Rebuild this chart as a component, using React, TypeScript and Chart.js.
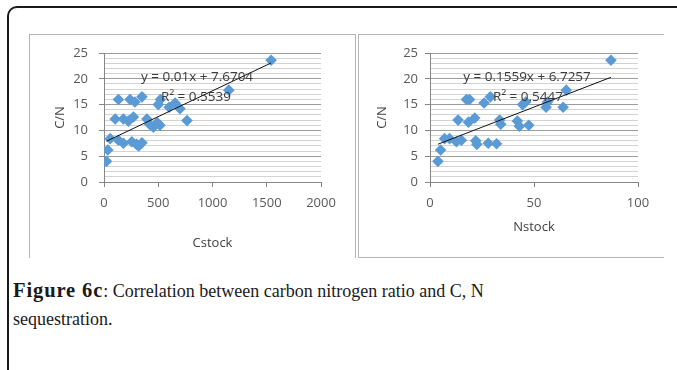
import React, { useEffect, useRef } from 'react';
import { Chart, registerables } from 'chart.js';

Chart.register(...registerables);

// ---- Data ----
const cstock = [23, 35, 57, 133, 179, 256, 300, 320, 350, 103, 179, 225, 271, 395, 420, 455, 516, 490, 133, 240, 285, 350, 500, 520, 600, 655, 700, 765, 1150, 1540];
const cnVsCstock = [4.0, 6.2, 8.4, 8.1, 7.5, 7.8, 7.3, 7.0, 7.6, 12.2, 12.2, 11.8, 12.6, 12.2, 11.2, 10.6, 11.0, 11.5, 16.0, 16.0, 15.5, 16.5, 15.0, 16.0, 14.5, 15.3, 14.2, 11.9, 17.8, 23.6];

const nstock = [3.8, 5.1, 7.0, 9.4, 12.7, 15.1, 22.0, 22.5, 28, 32, 13.5, 18.5, 21.5, 17.5, 19, 26, 29, 33.5, 34, 43, 42, 47.5, 44.5, 46, 55.8, 56.5, 64, 65.5, 87];
const cnVsNstock = [4.0, 6.2, 8.4, 8.4, 7.8, 8.1, 8.0, 7.3, 7.5, 7.4, 12.0, 11.6, 12.4, 16.0, 16.0, 15.3, 16.5, 12.0, 11.2, 10.8, 11.8, 11.0, 15.0, 15.5, 14.5, 15.5, 14.5, 17.8, 23.6];

const cTrend = [0.01, 7.6704];
const nTrend = [0.1559, 6.7257];
const cEquation = 'y = 0.01x + 7.6704';
const cR2 = 'R\u00B2 = 0.5539';
const nEquation = 'y = 0.1559x + 6.7257';
const nR2 = 'R\u00B2 = 0.5447';

const cXTicks = [0, 500, 1000, 1500, 2000];
const nXTicks = [0, 50, 100];
const yTicks = [0, 5, 10, 15, 20, 25];
const yMinorStep = 1;

const FONT = '"Open Sans", sans-serif';
const BLUE = '#5b9bd5';

type Cfg = {
  xs: number[];
  ys: number[];
  trend: number[];
  eq: string;
  r2: string;
  xTicks: number[];
  xTitle: string;
  width: number;
  height: number;
  padRight: number;
  yAxisW: number;
  xAxisH: number;
  yTitlePad: number;
  xTitlePad: number;
  yTickPad: number;
  xTickPad: number;
  eqPos: [number, number];
  r2Pos: [number, number];
};

function ScatterPanel(props: Cfg & { left: number; top: number }) {
  const ref = useRef<HTMLCanvasElement | null>(null);
  useEffect(() => {
    if (!ref.current) return;
    const p = props;
    const pts = p.xs.map((x, i) => ({ x, y: p.ys[i] }));
    const xmin = Math.min(...p.xs);
    const xmax = Math.max(...p.xs);
    const line = [
      { x: xmin, y: p.trend[0] * xmin + p.trend[1] },
      { x: xmax, y: p.trend[0] * xmax + p.trend[1] },
    ];
    const labelPlugin = {
      id: 'eqLabels',
      afterDatasetsDraw(chart: any) {
        const ctx = chart.ctx;
        ctx.save();
        ctx.font = '13.5px ' + FONT;
        ctx.fillStyle = '#3a3a3a';
        ctx.textAlign = 'center';
        ctx.textBaseline = 'middle';
        ctx.fillText(p.eq, p.eqPos[0], p.eqPos[1]);
        ctx.fillText(p.r2, p.r2Pos[0], p.r2Pos[1]);
        ctx.restore();
      },
    };
    const xStep = p.xTicks[1] - p.xTicks[0];
    const chart = new Chart(ref.current, {
      type: 'scatter',
      data: {
        datasets: [
          {
            data: line,
            showLine: true,
            borderColor: '#111111',
            borderWidth: 1,
            pointRadius: 0,
            fill: false,
          } as any,
          {
            data: pts,
            pointStyle: 'rectRot',
            pointRadius: 5.8,
            pointBackgroundColor: BLUE,
            pointBorderColor: BLUE,
            pointBorderWidth: 0,
            showLine: false,
          } as any,
        ],
      },
      options: {
        responsive: false,
        animation: false,
        devicePixelRatio: 1,
        layout: { padding: { left: 0, top: 19, right: p.padRight, bottom: 0 } },
        plugins: { legend: { display: false }, tooltip: { enabled: false } },
        scales: {
          x: {
            type: 'linear',
            min: p.xTicks[0],
            max: p.xTicks[p.xTicks.length - 1],
            afterFit: (s: any) => {
              s.height = p.xAxisH;
            },
            ticks: {
              stepSize: xStep,
              autoSkip: false,
              maxRotation: 0,
              padding: p.xTickPad,
              color: '#595959',
              font: { family: FONT, size: 13 },
              callback: (v: any) => String(v),
            },
            grid: {
              drawOnChartArea: false,
              drawTicks: true,
              tickLength: 5,
              color: '#868686',
            },
            border: { color: '#868686' },
            title: {
              display: true,
              text: p.xTitle,
              color: '#404040',
              font: { family: FONT, size: 13 },
              padding: { top: 0, bottom: p.xTitlePad },
            },
          },
          y: {
            type: 'linear',
            min: yTicks[0],
            max: yTicks[yTicks.length - 1],
            afterFit: (s: any) => {
              s.width = p.yAxisW;
            },
            ticks: {
              stepSize: yMinorStep,
              autoSkip: false,
              padding: p.yTickPad,
              color: '#595959',
              font: { family: FONT, size: 13 },
              callback: (v: any) => (yTicks.includes(Number(v)) ? String(v) : ''),
            },
            grid: {
              drawTicks: true,
              tickLength: 5,
              color: (c: any) => (c.tick && yTicks.includes(c.tick.value) ? '#9c9c9c' : '#d3d3d3'),
              tickColor: (c: any) => (c.tick && yTicks.includes(c.tick.value) ? '#868686' : 'rgba(0,0,0,0)'),
            },
            border: { color: '#868686' },
            title: {
              display: true,
              text: 'C/N',
              color: '#404040',
              font: { family: FONT, size: 13 },
              padding: { top: p.yTitlePad, bottom: 0 },
            },
          },
        },
      },
      plugins: [labelPlugin],
    });
    return () => chart.destroy();
  }, []);
  return (
    <canvas
      ref={ref}
      width={props.width}
      height={props.height}
      style={{ position: 'absolute', left: props.left, top: props.top, width: props.width, height: props.height }}
    />
  );
}

export default function App() {
  return (
    <div style={{ position: 'fixed', left: 0, top: 0, width: 677, height: 370, background: '#fff', overflow: 'hidden' }}>
      <div
        style={{
          position: 'absolute',
          left: 7,
          top: 6,
          width: 740,
          height: 440,
          border: '2px solid #1a1a1a',
          borderRadius: 10,
          boxSizing: 'border-box',
        }}
      />
      <div
        style={{
          position: 'absolute',
          left: 29,
          top: 34,
          width: 327,
          height: 224,
          borderLeft: '1px solid #b4b4b4',
          borderTop: '1px solid #b4b4b4',
          borderRight: '1px solid #b4b4b4',
          boxSizing: 'border-box',
        }}
      />
      <div
        style={{
          position: 'absolute',
          left: 358,
          top: 34,
          width: 306,
          height: 224,
          borderLeft: '1px solid #b4b4b4',
          borderTop: '1px solid #b4b4b4',
          borderBottom: '1px solid #b4b4b4',
          boxSizing: 'border-box',
        }}
      />
      <ScatterPanel
        left={29}
        top={34}
        width={326}
        height={223}
        xs={cstock}
        ys={cnVsCstock}
        trend={cTrend}
        eq={cEquation}
        r2={cR2}
        xTicks={cXTicks}
        xTitle="Cstock"
        padRight={34}
        yAxisW={75}
        xAxisH={75}
        yTitlePad={23}
        xTitlePad={6}
        yTickPad={11}
        xTickPad={8}
        eqPos={[168, 43]}
        r2Pos={[167, 63]}
      />
      <ScatterPanel
        left={358}
        top={34}
        width={305}
        height={223}
        xs={nstock}
        ys={cnVsNstock}
        trend={nTrend}
        eq={nEquation}
        r2={nR2}
        xTicks={nXTicks}
        xTitle="Nstock"
        padRight={25}
        yAxisW={72}
        xAxisH={75}
        yTitlePad={16}
        xTitlePad={22}
        yTickPad={7}
        xTickPad={8}
        eqPos={[169, 43]}
        r2Pos={[170, 63]}
      />
      <div
        style={{
          position: 'absolute',
          left: 13,
          top: 276,
          fontFamily: '"Liberation Serif", serif',
          fontSize: 18,
          lineHeight: '28px',
          color: '#1a1a1a',
          whiteSpace: 'nowrap',
        }}
      >
        <b style={{ fontSize: 20.5, letterSpacing: '0.9px' }}>Figure 6c</b>: Correlation between carbon nitrogen ratio and C, N
        <br />
        sequestration.
      </div>
    </div>
  );
}
